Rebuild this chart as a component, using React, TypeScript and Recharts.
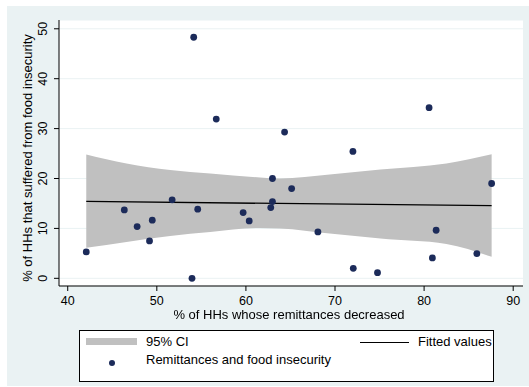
import {
  Area,
  CartesianGrid,
  ComposedChart,
  Line,
  Scatter,
  XAxis,
  YAxis,
} from "recharts";

// observed points: remittances decreased (%) vs. food insecurity (%)
const remitX = [
  42.08, 46.35, 47.79, 49.18, 49.49, 51.72, 53.95, 54.14, 54.59, 56.67, 59.69,
  60.37, 62.79, 62.98, 62.98, 64.34, 65.13, 68.08, 72.01, 72.05, 74.77, 80.56,
  80.93, 81.35, 85.92, 87.58,
];
const foodY = [
  5.28, 13.71, 10.37, 7.49, 11.64, 15.72, 0, 48.3, 13.85, 31.9, 13.18, 11.5,
  14.18, 20.0, 15.38, 29.3, 17.99, 9.3, 25.42, 2.0, 1.14, 34.2, 4.08, 9.63,
  4.95, 19.0,
];

// fitted line ends
const fitX = [42.08, 87.58];
const fitY = [15.4, 14.55];

// 95% confidence band
const ciX = [42.08, 46.6, 51.5, 56, 61.6, 63.8, 69.4, 75.1, 82.5, 87.58];
const ciHigh = [24.8, 23.0, 21.7, 21.0, 20.2, 20.0, 20.8, 21.8, 23.0, 24.85];
const ciLow = [6.1, 7.3, 8.5, 9.3, 10.1, 10.0, 9.0, 8.0, 6.9, 4.3];

const xTicks = [40, 50, 60, 70, 80, 90];
const yTicks = [0, 10, 20, 30, 40, 50];

const points = remitX.map((x, i) => ({ x, y: foodY[i] }));
const fitted = fitX.map((x, i) => ({ x, fit: fitY[i] }));
const band = ciX.map((x, i) => ({ x, range: [ciLow[i], ciHigh[i]] }));

const FONT = "'Liberation Sans', Arial, sans-serif";
const NAVY = "#1c2b5a";

const XTick = ({ x, payload }: any) => (
  <text x={x} y={304.5} textAnchor="middle" fontSize={12.5} fontFamily={FONT} fill="#000">
    {payload.value}
  </text>
);

const YTick = ({ y, payload }: any) => (
  <text
    x={47}
    y={y}
    transform={`rotate(-90, 47, ${y})`}
    textAnchor="middle"
    fontSize={12.5}
    fontFamily={FONT}
    fill="#000"
  >
    {payload.value}
  </text>
);

const Dot = ({ cx, cy }: any) => <circle cx={cx} cy={cy} r={3.4} fill={NAVY} />;

const textStyle = {
  position: "absolute" as const,
  fontFamily: FONT,
  fontSize: 13,
  lineHeight: "14px",
  color: "#000",
  whiteSpace: "nowrap" as const,
};

export default function App() {
  return (
    <div style={{ position: "fixed", left: 0, top: 0, width: 529, height: 387, background: "#fff" }}>
      <div style={{ position: "absolute", left: 7, top: 6, width: 522, height: 380, background: "#eaf2f3" }} />
      <div style={{ position: "absolute", left: 0, top: 0 }}>
        <ComposedChart
          width={529}
          height={387}
          margin={{ top: 20, right: 6, bottom: 71, left: 19 }}
        >
          <CartesianGrid vertical={false} stroke="#eaf2f3" fill="#fff" />
          <XAxis
            dataKey="x"
            type="number"
            domain={[39.02, 91.1]}
            allowDataOverflow
            ticks={xTicks}
            height={30}
            tick={<XTick />}
            tickSize={5}
            axisLine={{ stroke: "#000" }}
            tickLine={{ stroke: "#000" }}
          />
          <YAxis
            type="number"
            domain={[-1.54, 51.76]}
            allowDataOverflow
            ticks={yTicks}
            width={40}
            tick={<YTick />}
            tickSize={5}
            axisLine={{ stroke: "#000" }}
            tickLine={{ stroke: "#000" }}
          />
          <Area
            data={band}
            dataKey="range"
            type="monotone"
            stroke="none"
            fill="#c0c0c0"
            fillOpacity={1}
            isAnimationActive={false}
          />
          <Line
            data={fitted}
            dataKey="fit"
            stroke="#000"
            strokeWidth={1.3}
            dot={false}
            isAnimationActive={false}
          />
          <Scatter data={points} dataKey="y" shape={<Dot />} isAnimationActive={false} />
        </ComposedChart>
      </div>
      <div style={{ ...textStyle, left: 0, width: 20, top: 158, height: 0 }}>
        <div
          style={{
            position: "absolute",
            left: 27.5,
            top: 0,
            transform: "translate(-50%, -50%) rotate(-90deg)",
          }}
        >
          % of HHs that suffered from food insecurity
        </div>
      </div>
      <div
        style={{
          ...textStyle,
          left: 0,
          width: 578,
          top: 307.8,
          lineHeight: "13px",
          textAlign: "center",
        }}
      >
        % of HHs whose remittances decreased
      </div>
      <div
        style={{
          position: "absolute",
          left: 79,
          top: 330,
          width: 415,
          height: 52,
          background: "#fff",
          border: "1px solid #000",
          boxSizing: "border-box",
        }}
      >
        <div style={{ position: "absolute", left: 6, top: 6.5, width: 51, height: 7, background: "#c0c0c0" }} />
        <div style={{ ...textStyle, left: 66, top: 3.7 }}>95% CI</div>
        <div style={{ position: "absolute", left: 280, top: 11, width: 49, height: 1.3, background: "#000" }} />
        <div style={{ ...textStyle, left: 338, top: 3.7 }}>Fitted values</div>
        <div
          style={{
            position: "absolute",
            left: 28.5,
            top: 28.5,
            width: 6.8,
            height: 6.8,
            borderRadius: "50%",
            background: NAVY,
          }}
        />
        <div style={{ ...textStyle, left: 66, top: 22.2 }}>Remittances and food insecurity</div>
      </div>
    </div>
  );
}
